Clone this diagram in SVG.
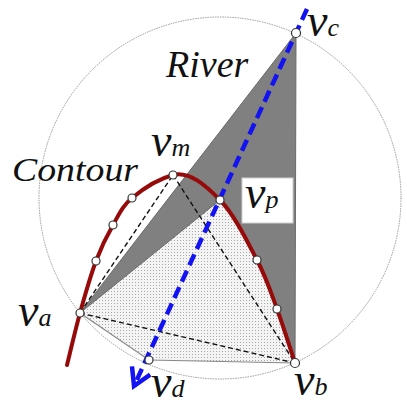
<svg xmlns="http://www.w3.org/2000/svg" width="407" height="402" viewBox="0 0 407 402">
<defs>
<pattern id="dots" width="3" height="3" patternUnits="userSpaceOnUse">
<rect width="3" height="3" fill="#f4f4f4"/>
<rect width="1" height="1" fill="#a8a8a8"/>
</pattern>
<marker id="arr" markerUnits="userSpaceOnUse" markerWidth="30" markerHeight="30" refX="0" refY="0" orient="auto" overflow="visible">
<path d="M-17,-10 L0,0 L-17,10" fill="none" stroke="#1212f2" stroke-width="4.5"/>
</marker>
</defs>
<rect width="407" height="402" fill="#fff"/>
<circle cx="220" cy="198" r="181" fill="none" stroke="#999" stroke-width="1" stroke-dasharray="1.5 1"/>
<path id="dotted-region" d="M80,313 L220,200 C234,214.2 247.5,241.8 257,260 C266.5,278.2 270.7,291.8 277,309 C283.3,326.2 292,354 295,363 L149,360 Z" fill="url(#dots)"/>
<path id="gray-region" d="M80,313 L296,33 L295,363 C292,354 283.3,326.2 277,309 C270.7,291.8 266.5,278.2 257,260 C247.5,241.8 234,214.2 220,200 Z" fill="#808080" stroke="#6a6a6a" stroke-width="1"/>
<rect x="242" y="178" width="51" height="45" fill="#fff" stroke="#cfcfcf" stroke-width="1"/>
<text x="166" y="77" font-size="38" font-family="Times New Roman" font-style="italic" fill="#111">River</text>
<text x="12" y="181" font-size="33" font-family="Times New Roman" font-style="italic" fill="#111" textLength="126" lengthAdjust="spacingAndGlyphs">Contour</text>
<g id="connectors" fill="none">
<g stroke="#888" stroke-width="1.1">
<line x1="80" y1="313" x2="149" y2="360"/>
<line x1="149" y1="360" x2="295" y2="363"/>
</g>
<g stroke="#111" stroke-width="1.4" stroke-dasharray="5 3">
<line x1="80" y1="313" x2="173" y2="175"/>
<line x1="173" y1="175" x2="295" y2="363"/>
<line x1="80" y1="313" x2="295" y2="363"/>
</g>
<path id="contour" d="M67,365 C69.2,356.3 75.2,330.3 80,313 C84.8,295.7 90.5,275.7 96,261 C101.5,246.3 107,235.5 113,225 C119,214.5 122,206.3 132,198 C142,189.7 158,179 173,175 C190,171 206,185.8 220,200 C234,214.2 247.5,241.8 257,260 C266.5,278.2 270.7,291.8 277,309 C283.3,326.2 292,354 295,363" stroke="#960a0a" stroke-width="4" stroke-linecap="round"/>
<line id="river" x1="307" y1="9" x2="134" y2="386" stroke="#1212f2" stroke-width="4.5" stroke-dasharray="12 6" marker-end="url(#arr)"/>
</g>
<g id="contour-points" fill="#fff" stroke="#333" stroke-width="1.2">
<circle cx="96" cy="261" r="4"/>
<circle cx="113" cy="225" r="4"/>
<circle cx="132" cy="198" r="4"/>
<circle cx="257" cy="260" r="4"/>
<circle cx="277" cy="309" r="4"/>
</g>
<g id="vc"><circle cx="296" cy="33" r="4.5" fill="#fff" stroke="#333" stroke-width="1.2"/><text x="307" y="36" font-size="46" font-family="Times New Roman" font-style="italic" fill="#111">v<tspan font-size="26">c</tspan></text></g>
<g id="vm"><circle cx="173" cy="175" r="4" fill="#fff" stroke="#333" stroke-width="1.2"/><text x="151" y="156" font-size="46" font-family="Times New Roman" font-style="italic" fill="#111">v<tspan font-size="26">m</tspan></text></g>
<g id="vp"><circle cx="220" cy="200" r="4" fill="#fff" stroke="#333" stroke-width="1.2"/><text x="245" y="208" font-size="46" font-family="Times New Roman" font-style="italic" fill="#111">v<tspan font-size="26">p</tspan></text></g>
<g id="va"><circle cx="80" cy="313" r="4" fill="#fff" stroke="#333" stroke-width="1.2"/><text x="18" y="326" font-size="46" font-family="Times New Roman" font-style="italic" fill="#111">v<tspan font-size="26">a</tspan></text></g>
<g id="vd"><circle cx="149" cy="360" r="4" fill="#fff" stroke="#333" stroke-width="1.2"/><text x="151" y="397" font-size="46" font-family="Times New Roman" font-style="italic" fill="#111">v<tspan font-size="26">d</tspan></text></g>
<g id="vb"><circle cx="295" cy="363" r="4.5" fill="#fff" stroke="#333" stroke-width="1.2"/><text x="294" y="395" font-size="46" font-family="Times New Roman" font-style="italic" fill="#111">v<tspan font-size="26">b</tspan></text></g>
</svg>
